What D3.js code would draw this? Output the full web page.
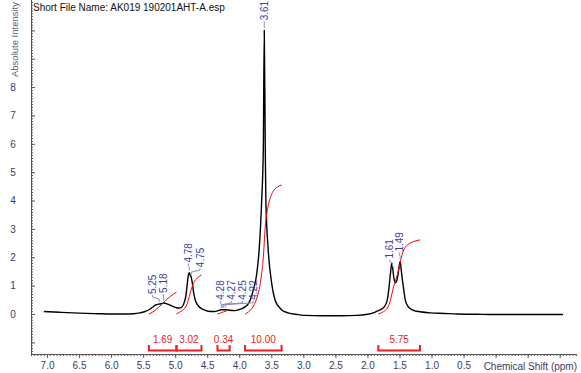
<!DOCTYPE html>
<html>
<head>
<meta charset="utf-8">
<script src="https://cdn.jsdelivr.net/npm/d3@7"></script>
<style>
  body { margin: 0; background: #fff; }
  svg { display: block; font-family: Arial, "Liberation Sans", sans-serif; }
</style>
</head>
<body>
<div id="chart"></div>
<script>
// spectrum: [ppm, intensity]
const spectrum = [
  [7.05, 0.09], [6.8, 0.06], [6.5, 0.03], [6.2, 0.01], [6.0, 0.0], [5.8, 0.0],
  [5.65, 0.01], [5.55, 0.04], [5.48, 0.08], [5.41, 0.15], [5.36, 0.23], [5.31, 0.31],
  [5.26, 0.35], [5.22, 0.36], [5.18, 0.39], [5.13, 0.36], [5.08, 0.31], [5.03, 0.26],
  [4.98, 0.22], [4.93, 0.21], [4.89, 0.26], [4.86, 0.40], [4.83, 0.68], [4.81, 1.1],
  [4.79, 1.42], [4.78, 1.46], [4.765, 1.36], [4.75, 1.30], [4.73, 1.05], [4.71, 0.72],
  [4.68, 0.45], [4.64, 0.29], [4.59, 0.19], [4.53, 0.13], [4.45, 0.09], [4.38, 0.09],
  [4.34, 0.11], [4.28, 0.15], [4.25, 0.15], [4.22, 0.15], [4.15, 0.13], [4.07, 0.12],
  [4.0, 0.16], [3.95, 0.2], [3.91, 0.25], [3.86, 0.36], [3.82, 0.55], [3.78, 0.86],
  [3.73, 1.38], [3.69, 2.26], [3.65, 4.02], [3.625, 5.8], [3.61, 10.0], [3.595, 6.0],
  [3.585, 4.0], [3.548, 2.25], [3.495, 1.09], [3.443, 0.5], [3.40, 0.3], [3.365, 0.21],
  [3.34, 0.15], [3.24, 0.04], [3.08, -0.02], [2.97, -0.05], [2.7, -0.06], [2.4, -0.06],
  [2.17, -0.05], [2.0, -0.01], [1.91, 0.04], [1.83, 0.12], [1.78, 0.17], [1.72, 0.32],
  [1.69, 0.5], [1.66, 1.0], [1.64, 1.45], [1.62, 1.8], [1.605, 1.6], [1.59, 1.3],
  [1.56, 1.1], [1.53, 1.3], [1.51, 1.6], [1.49, 1.85], [1.475, 1.6], [1.46, 1.3],
  [1.43, 0.8], [1.41, 0.5], [1.37, 0.28], [1.32, 0.17], [1.26, 0.11], [1.18, 0.08],
  [1.02, 0.04], [0.8, 0.02], [0.6, 0.0], [0.3, -0.01], [0.0, -0.02], [-0.5, -0.02],
  [-1.05, -0.02]
];

const peakLabels = [5.25, 5.18, 4.78, 4.75, 4.28, 4.27, 4.25, 4.22, 3.61, 1.61, 1.49];

const integralRanges = [[5.41, 4.98], [4.98, 4.59], [4.34, 4.15], [3.91, 3.34], [1.83, 1.18]];
const integralValues = [1.69, 3.02, 0.34, 10.00, 5.75];

const xTickLabels = [7.0, 6.5, 6.0, 5.5, 5.0, 4.5, 4.0, 3.5, 3.0, 2.5, 2.0, 1.5, 1.0, 0.5];
const yTickLabels = [0, 1, 2, 3, 4, 5, 6, 7, 8];

const width = 581;
const height = 373;

const x = d3.scaleLinear().domain([7.25, -1.27]).range([31, 577]);
const y = d3.scaleLinear().domain([-1.41, 11.07]).range([354, 0]);
const yInt = d3.scaleLinear().domain([0, 10]).range([y(0), y(0) - 129]);

const svg = d3.select('#chart').append('svg')
  .attr('width', width)
  .attr('height', height);

const axisColor = '#3c3c64';

// y axis: ticks inside
const yMinor = d3.range(-14, 111).map(d => d / 10);
svg.append('g')
  .attr('transform', 'translate(31,0)')
  .call(d3.axisLeft(y).tickValues(yMinor).tickSize(-2).tickFormat(''))
  .call(g => g.select('.domain').remove());
svg.append('g')
  .attr('transform', 'translate(31,0)')
  .call(d3.axisLeft(y).tickValues(d3.range(-1, 11)).tickSize(-4).tickFormat(''))
  .call(g => g.select('.domain').remove());
svg.append('g')
  .attr('transform', 'translate(31,0)')
  .call(d3.axisLeft(y).tickValues(yTickLabels).tickSize(0).tickPadding(18).tickFormat(d3.format('d')))
  .call(g => g.select('.domain').remove())
  .call(g => g.selectAll('text').attr('fill', axisColor).attr('font-size', 10).attr('text-anchor', 'middle'));
svg.append('line')
  .attr('x1', 31.5).attr('x2', 31.5).attr('y1', 0).attr('y2', 354)
  .attr('stroke', '#555').attr('stroke-width', 1);

// x axis
const xMinor = d3.range(-25, 146).map(d => d / 20);
svg.append('g')
  .attr('transform', 'translate(0,354)')
  .call(d3.axisBottom(x).tickValues(xMinor).tickSize(2).tickFormat(''))
  .call(g => g.select('.domain').remove());
svg.append('g')
  .attr('transform', 'translate(0,354)')
  .call(d3.axisBottom(x).tickValues(d3.range(-2, 15).map(d => d / 2)).tickSize(4).tickFormat(''))
  .call(g => g.select('.domain').remove());
svg.append('g')
  .attr('transform', 'translate(0,354)')
  .call(d3.axisBottom(x).tickValues(xTickLabels).tickSize(0).tickPadding(8).tickFormat(d3.format('.1f')))
  .call(g => g.select('.domain').remove())
  .call(g => g.selectAll('text').attr('fill', axisColor).attr('font-size', 10));
svg.selectAll('.tick line').attr('stroke', '#555');
svg.append('line')
  .attr('x1', 31).attr('x2', 577).attr('y1', 354.5).attr('y2', 354.5)
  .attr('stroke', '#555').attr('stroke-width', 1);

svg.append('text')
  .attr('x', 577).attr('y', 370)
  .attr('text-anchor', 'end')
  .attr('font-size', 10)
  .attr('fill', axisColor)
  .text('Chemical Shift (ppm)');

svg.append('text')
  .attr('transform', 'translate(15,77) rotate(-90)')
  .attr('dy', '0.35em')
  .attr('font-size', 9.5)
  .attr('fill', '#5a5a78')
  .text('Absolute Intensity');

svg.append('text')
  .attr('x', 33).attr('y', 10.5)
  .attr('font-size', 10)
  .attr('fill', '#111')
  .text('Short File Name: AK019 190201AHT-A.esp');

// spectrum
const line = d3.line()
  .x(d => x(d[0]))
  .y(d => y(d[1]))
  .curve(d3.curveMonotoneX);

svg.append('path')
  .datum(spectrum)
  .attr('d', line)
  .attr('fill', 'none')
  .attr('stroke', '#000')
  .attr('stroke-width', 1.4)
  .attr('stroke-linejoin', 'round');

// integral curves: cumulative area of the spectrum inside each range
const integrals = integralRanges.map(([from, to], i) => {
  const pts = spectrum.filter(d => d[0] <= from + 1e-9 && d[0] >= to - 1e-9);
  let cum = 0;
  const acc = pts.map((d, j) => {
    if (j > 0) {
      const p = pts[j - 1];
      cum += (p[0] - d[0]) * (p[1] + d[1]) / 2;
    }
    return [d[0], cum];
  });
  const total = cum;
  return acc.map(d => [d[0], d[1] / total * integralValues[i]]);
});

const intLine = d3.line()
  .x(d => x(d[0]))
  .y(d => yInt(d[1]))
  .curve(d3.curveMonotoneX);

svg.selectAll('.integral')
  .data(integrals)
  .enter().append('path')
    .attr('class', 'integral')
    .attr('d', intLine)
    .attr('fill', 'none')
    .attr('stroke', '#ff0000')
    .attr('stroke-width', 1);

// integral brackets
const red = '#ee1c24';
const bracket = svg.selectAll('.bracket')
  .data(integralRanges)
  .enter().append('g')
    .attr('class', 'bracket');

bracket.append('path')
  .attr('d', d => `M${x(d[0])},345V350.5H${x(d[1])}V345`)
  .attr('fill', 'none')
  .attr('stroke', red)
  .attr('stroke-width', 2);

bracket.append('text')
  .attr('x', d => (x(d[0]) + x(d[1])) / 2)
  .attr('y', 343)
  .attr('text-anchor', 'middle')
  .attr('font-size', 10)
  .attr('fill', red)
  .text((d, i) => integralValues[i].toFixed(2));

// peak labels
const labelShift = [-6.5, -0.4, -1, 8.8, -0.7, 9.7, 19.4, 28.1, 0, -2.6, -0.9];
const peakY = p => y(d3.least(spectrum, d => Math.abs(d[0] - p))[1]);

const peak = svg.selectAll('.peak')
  .data(peakLabels)
  .enter().append('g')
    .attr('class', 'peak');

peak.append('path')
  .attr('d', (d, i) => {
    const px = x(d);
    const py = peakY(d);
    const lx = px + labelShift[i];
    const ly = py - 10;
    return `M${lx},${ly + 1}V${ly + 3}L${px},${py - 5}V${py - 2}`;
  })
  .attr('fill', 'none')
  .attr('stroke', '#8a8ac8')
  .attr('stroke-width', 1);

peak.append('text')
  .attr('transform', (d, i) => `translate(${x(d) + labelShift[i]},${peakY(d) - 10}) rotate(-90)`)
  .attr('dy', '0.35em')
  .attr('font-size', 10)
  .attr('fill', '#4040a8')
  .text(d => d.toFixed(2));
</script>
</body>
</html>
